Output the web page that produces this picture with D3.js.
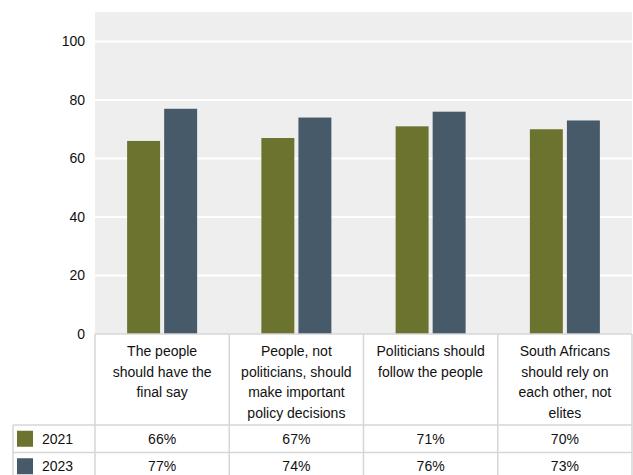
<!DOCTYPE html>
<html>
<head>
<meta charset="utf-8">
<script src="https://cdn.jsdelivr.net/npm/d3@7"></script>
<style>
  html, body { margin: 0; padding: 0; background: #ffffff; }
  svg { display: block; }
  text { font-family: "Liberation Sans", Arial, sans-serif; fill: #111111; }
</style>
</head>
<body>
<svg id="chart" width="633" height="475"></svg>
<script>
// Survey statements (column headers of the data table)
const categories = [
  ["The people", "should have the", "final say"],
  ["People, not", "politicians, should", "make important", "policy decisions"],
  ["Politicians should", "follow the people"],
  ["South Africans", "should rely on", "each other, not", "elites"]
];
const years = ["2021", "2023"];
const values2021 = [66, 67, 71, 70];
const values2023 = [77, 74, 76, 73];
const yTicks = [0, 20, 40, 60, 80, 100];
const colors = ["#6c732f", "#475a69"];

const series = [values2021, values2023];

const svg = d3.select("#chart");
const W = 633, H = 475;

const plot = { left: 95, right: 632, top: 12, bottom: 334 };
const tableLeft = 13;
const headerBottom = 425;
const rowH = 27.5;

const x = d3.scaleBand()
  .domain(d3.range(categories.length))
  .range([plot.left, plot.right])
  .paddingInner(0).paddingOuter(0);

const xInner = d3.scaleBand()
  .domain(d3.range(years.length))
  .range([x.bandwidth() / 2 - 35, x.bandwidth() / 2 + 35])
  .paddingInner(0.11);

const y = d3.scaleLinear().domain([0, 100]).range([plot.bottom, 41.5]);

// plot background
svg.append("rect")
  .attr("x", plot.left).attr("y", plot.top)
  .attr("width", plot.right - plot.left).attr("height", plot.bottom - plot.top)
  .attr("fill", "#eeeeee");

// gridlines
svg.append("g").selectAll("line")
  .data(yTicks.filter(d => d > 0))
  .join("line")
  .attr("x1", plot.left).attr("x2", plot.right)
  .attr("y1", d => y(d)).attr("y2", d => y(d))
  .attr("stroke", "#ffffff").attr("stroke-width", 2);

// y axis labels
const yAxis = d3.axisLeft(y).tickValues(yTicks).tickSize(0).tickPadding(10);
const yg = svg.append("g").attr("transform", `translate(${plot.left},0)`).call(yAxis);
yg.select(".domain").remove();
yg.selectAll("text")
  .style("font-family", '"Liberation Sans", Arial, sans-serif')
  .style("font-size", "14px").attr("fill", "#111111");

// bars
const groups = svg.append("g").selectAll("g")
  .data(categories.map((c, i) => i))
  .join("g")
  .attr("transform", i => `translate(${x(i)},0)`);

groups.selectAll("rect")
  .data(i => series.map((s, k) => ({ k, v: s[i] })))
  .join("rect")
  .attr("x", d => xInner(d.k))
  .attr("width", xInner.bandwidth())
  .attr("y", d => y(d.v))
  .attr("height", d => y(0) - y(d.v))
  .attr("fill", d => colors[d.k]);

// data table
const grid = svg.append("g").attr("stroke", "#d6d6d6").attr("stroke-width", 1.5);
// top of header
grid.append("line").attr("x1", plot.left).attr("x2", plot.right)
  .attr("y1", plot.bottom).attr("y2", plot.bottom);
// row separators
[0, 1, 2].forEach(r => {
  const yy = headerBottom + r * rowH;
  grid.append("line").attr("x1", tableLeft).attr("x2", plot.right)
    .attr("y1", yy).attr("y2", yy);
});
// vertical dividers
d3.range(categories.length + 1).forEach(i => {
  const xx = i < categories.length ? x(i) : plot.right;
  grid.append("line").attr("x1", xx).attr("x2", xx)
    .attr("y1", plot.bottom).attr("y2", H);
});
grid.append("line").attr("x1", tableLeft).attr("x2", tableLeft)
  .attr("y1", headerBottom).attr("y2", H);

// header text
categories.forEach((lines, i) => {
  const t = svg.append("text")
    .attr("x", x(i) + x.bandwidth() / 2)
    .attr("y", 356)
    .attr("text-anchor", "middle")
    .style("font-size", "14px");
  lines.forEach((ln, j) => {
    t.append("tspan").attr("x", x(i) + x.bandwidth() / 2)
      .attr("dy", j === 0 ? 0 : 20.5).text(ln);
  });
});

// series rows
years.forEach((yr, k) => {
  const cy = headerBottom + k * rowH + rowH / 2;
  svg.append("rect")
    .attr("x", 17).attr("y", cy - 8)
    .attr("width", 16).attr("height", 16)
    .attr("fill", colors[k]);
  svg.append("text")
    .attr("x", 42).attr("y", cy + 5)
    .style("font-size", "14px")
    .text(yr);
  series[k].forEach((v, i) => {
    svg.append("text")
      .attr("x", x(i) + x.bandwidth() / 2)
      .attr("y", cy + 5)
      .attr("text-anchor", "middle")
      .style("font-size", "14px")
      .text(v + "%");
  });
});
</script>
</body>
</html>
